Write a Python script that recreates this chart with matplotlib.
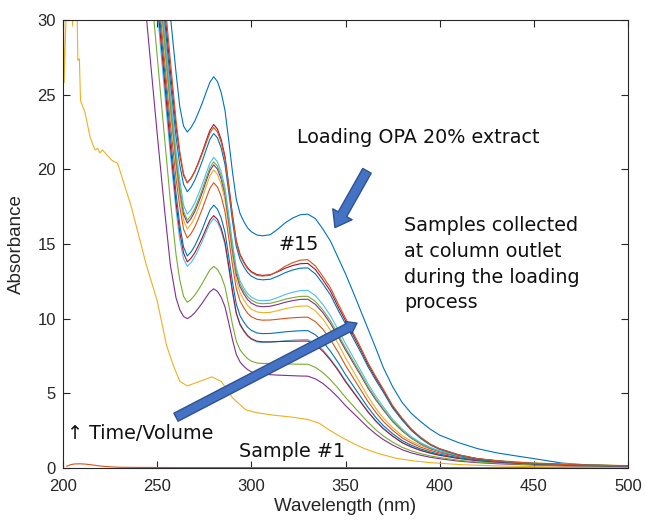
import matplotlib.pyplot as plt
from matplotlib.patches import FancyArrowPatch

# shared wavelength grid (nm) for the loading spectrum and samples 3-15
wl = [240, 245, 250, 254, 257, 260, 262, 264, 266,
      268, 270, 272, 274, 276, 278, 280, 282, 284, 286,
      288, 290, 292, 294, 296, 298, 300, 303, 306, 310,
      314, 318, 322, 326, 330, 334, 338, 342, 346, 350,
      354, 358, 362, 366, 370, 375, 380, 385, 390, 395,
      400, 410, 420, 430, 440, 450, 465, 480, 500]

loading = [45, 45, 42, 34.5, 30.3, 26.5, 24.2, 22.9, 22.5,
           22.8, 23.24, 23.83, 24.46, 25.16, 25.83, 26.2, 25.88, 25.14, 23.96,
           21.94, 19.81, 18.0, 17.04, 16.51, 16.08, 15.82, 15.6, 15.55, 15.62,
           15.99, 16.42, 16.74, 16.96, 17.0, 16.7, 16.0, 15.2, 14.1, 13.0,
           11.8, 10.55, 9.3, 8.05, 6.75, 5.45, 4.4, 3.65, 3.1, 2.6,
           2.2, 1.7, 1.3, 1.02, 0.82, 0.63, 0.33, 0.19, 0.1]

wl_s01 = [202, 204, 206, 209, 212, 216, 220, 225, 230, 240, 260, 300, 350, 400, 450, 500]
s01 = [0.12, 0.22, 0.27, 0.28, 0.26, 0.2, 0.13, 0.08, 0.05, 0.04, 0.03, 0.03, 0.03, 0.03, 0.02, 0.02]

wl_s02 = [200.3, 200.6, 201.8, 204.8, 205.1, 205.4, 207.4, 207.9, 208.7, 209.3,
          210.5, 211.7, 214.3, 216, 217, 218.5, 219.5, 221, 223, 226,
          229, 233, 236, 241, 244, 250, 255, 258.5, 262, 266,
          272.6, 279, 284, 290, 297, 303, 311, 322, 330, 336,
          342, 348, 354, 360, 368, 377, 386, 395, 412, 430,
          450, 475, 500]
s02 = [31, 25.8, 31, 31, 29.6, 31, 31, 27.3, 27.4, 24.6,
       24.2, 23.8, 22.2, 21.6, 21.3, 21.4, 21.1, 21.3, 21.0, 20.6,
       20.4, 18.8, 17.6, 15.2, 13.7, 11.2, 8.2, 6.9, 5.8, 5.5,
       5.8, 6.1, 5.8, 4.7, 3.9, 3.7, 3.55, 3.4, 3.25, 3.0,
       2.5, 2.05, 1.65, 1.3, 0.95, 0.65, 0.48, 0.36, 0.22, 0.14,
       0.09, 0.06, 0.04]

s03 = [36.2, 29.2, 22.4, 17.2, 13.6, 11.4, 10.6, 10.15, 10.0,
       10.16, 10.4, 10.72, 11.06, 11.44, 11.8, 12.0, 11.83, 11.43, 10.8,
       9.72, 8.58, 7.61, 7.1, 6.81, 6.59, 6.44, 6.33, 6.3, 6.25,
       6.22, 6.2, 6.18, 6.16, 6.15, 5.97, 5.66, 5.23, 4.74, 4.18,
       3.69, 3.2, 2.71, 2.28, 1.91, 1.54, 1.23, 1.01, 0.85, 0.72,
       0.62, 0.46, 0.36, 0.29, 0.24, 0.2, 0.15, 0.12, 0.09]
s04 = [41, 34.6, 27.6, 22.0, 17.9, 14.3, 12.6, 11.5, 11.1,
       11.29, 11.58, 11.96, 12.37, 12.83, 13.26, 13.5, 13.31, 12.85, 12.14,
       10.9, 9.6, 8.5, 7.91, 7.59, 7.33, 7.16, 7.03, 7.0, 7.0,
       6.98, 6.97, 6.96, 6.95, 6.95, 6.74, 6.39, 5.91, 5.35, 4.73,
       4.17, 3.61, 3.06, 2.57, 2.15, 1.74, 1.39, 1.15, 0.96, 0.81,
       0.7, 0.52, 0.4, 0.33, 0.27, 0.22, 0.17, 0.14, 0.1]
s05 = [44, 37.7, 30.7, 25.1, 21.0, 17.3, 15.3, 14.0, 13.5,
       13.76, 14.14, 14.65, 15.2, 15.8, 16.38, 16.7, 16.45, 15.87, 14.96,
       13.38, 11.72, 10.31, 9.56, 9.15, 8.82, 8.61, 8.44, 8.4, 8.41,
       8.46, 8.52, 8.56, 8.59, 8.6, 8.34, 7.91, 7.31, 6.62, 5.85,
       5.16, 4.47, 3.78, 3.18, 2.67, 2.15, 1.72, 1.42, 1.19, 1.01,
       0.86, 0.65, 0.5, 0.4, 0.34, 0.28, 0.22, 0.17, 0.13]
s06 = [45, 38.4, 31.4, 25.8, 21.6, 17.8, 15.8, 14.4, 13.8,
       14.05, 14.42, 14.92, 15.44, 16.03, 16.59, 16.9, 16.65, 16.06, 15.13,
       13.52, 11.83, 10.39, 9.63, 9.21, 8.87, 8.66, 8.49, 8.45, 8.45,
       8.47, 8.48, 8.49, 8.5, 8.5, 8.25, 7.82, 7.23, 6.55, 5.78,
       5.1, 4.42, 3.74, 3.15, 2.64, 2.13, 1.7, 1.4, 1.17, 0.99,
       0.85, 0.64, 0.49, 0.4, 0.33, 0.27, 0.21, 0.17, 0.13]
s07 = [45, 39.0, 32.1, 26.5, 22.3, 18.4, 16.3, 14.8, 14.2,
       14.47, 14.88, 15.42, 16.0, 16.65, 17.26, 17.6, 17.34, 16.74, 15.79,
       14.16, 12.44, 10.98, 10.2, 9.77, 9.43, 9.22, 9.04, 9.0, 9.01,
       9.06, 9.12, 9.16, 9.19, 9.2, 8.92, 8.46, 7.82, 7.08, 6.26,
       5.52, 4.78, 4.05, 3.4, 2.85, 2.3, 1.84, 1.52, 1.27, 1.08,
       0.92, 0.69, 0.53, 0.43, 0.36, 0.29, 0.23, 0.18, 0.14]
s08 = [45, 40, 32.8, 27.2, 23.1, 19.4, 17.5, 16.0, 15.4,
       15.7, 16.14, 16.73, 17.36, 18.06, 18.73, 19.1, 18.82, 18.18, 17.17,
       15.42, 13.58, 12.02, 11.19, 10.73, 10.36, 10.13, 9.95, 9.9, 9.91,
       9.96, 10.02, 10.06, 10.09, 10.1, 9.8, 9.29, 8.59, 7.78, 6.87,
       6.06, 5.25, 4.44, 3.74, 3.13, 2.53, 2.02, 1.67, 1.39, 1.18,
       1.01, 0.76, 0.59, 0.47, 0.39, 0.32, 0.25, 0.2, 0.15]
s09 = [45, 41, 33.5, 27.9, 23.8, 20.1, 18.2, 16.6, 16.0,
       16.32, 16.79, 17.43, 18.1, 18.85, 19.56, 19.96, 19.67, 19.0, 17.95,
       16.14, 14.22, 12.6, 11.74, 11.26, 10.88, 10.64, 10.45, 10.4, 10.42,
       10.54, 10.67, 10.77, 10.84, 10.85, 10.52, 9.98, 9.22, 8.35, 7.38,
       6.51, 5.64, 4.77, 4.01, 3.36, 2.71, 2.17, 1.79, 1.5, 1.27,
       1.09, 0.81, 0.63, 0.51, 0.42, 0.35, 0.27, 0.22, 0.16]
s10 = [45, 41, 34.2, 28.6, 24.5, 20.6, 18.6, 17.0, 16.4,
       16.71, 17.18, 17.8, 18.47, 19.21, 19.91, 20.3, 20.02, 19.35, 18.31,
       16.5, 14.6, 12.99, 12.13, 11.66, 11.28, 11.04, 10.85, 10.8, 10.83,
       10.95, 11.1, 11.21, 11.29, 11.3, 10.96, 10.4, 9.68, 8.81, 7.91,
       7.06, 6.22, 5.34, 4.58, 3.9, 3.11, 2.49, 1.99, 1.6, 1.31,
       1.1, 0.79, 0.59, 0.46, 0.37, 0.31, 0.24, 0.19, 0.14]
s11 = [45, 41, 34.2, 28.6, 24.5, 20.8, 18.8, 17.2, 16.6,
       16.91, 17.38, 18.0, 18.67, 19.41, 20.11, 20.5, 20.22, 19.55, 18.51,
       16.7, 14.8, 13.19, 12.33, 11.86, 11.48, 11.24, 11.05, 11.0, 11.03,
       11.15, 11.3, 11.41, 11.49, 11.5, 11.16, 10.58, 9.86, 8.97, 8.05,
       7.19, 6.33, 5.44, 4.66, 3.97, 3.16, 2.53, 2.02, 1.63, 1.33,
       1.12, 0.81, 0.6, 0.47, 0.38, 0.31, 0.24, 0.2, 0.14]
s12 = [45, 42, 34.9, 29.3, 25.1, 21.3, 19.3, 17.6, 17.0,
       17.3, 17.76, 18.37, 19.01, 19.74, 20.42, 20.8, 20.51, 19.84, 18.78,
       16.96, 15.04, 13.41, 12.54, 12.06, 11.68, 11.44, 11.25, 11.2, 11.24,
       11.41, 11.62, 11.77, 11.88, 11.9, 11.54, 10.95, 10.2, 9.28, 8.33,
       7.44, 6.55, 5.63, 4.82, 4.11, 3.27, 2.62, 2.09, 1.69, 1.38,
       1.15, 0.83, 0.62, 0.49, 0.39, 0.32, 0.25, 0.2, 0.14]
s13 = [45, 43, 36.3, 30.7, 26.6, 22.9, 21.0, 19.6, 19.1,
       19.41, 19.88, 20.5, 21.17, 21.91, 22.61, 23.0, 22.7, 21.99, 20.88,
       18.96, 16.94, 15.22, 14.31, 13.81, 13.41, 13.15, 12.95, 12.9, 12.94,
       13.14, 13.38, 13.56, 13.68, 13.7, 13.29, 12.6, 11.85, 10.82, 9.86,
       8.91, 7.95, 6.92, 6.03, 5.21, 4.11, 3.29, 2.56, 2.01, 1.58,
       1.27, 0.88, 0.62, 0.48, 0.37, 0.3, 0.23, 0.18, 0.14]
s14 = [45, 43, 35.6, 30.0, 25.9, 22.2, 20.3, 19.0, 18.5,
       18.81, 19.28, 19.9, 20.57, 21.31, 22.01, 22.4, 22.11, 21.42, 20.34,
       18.48, 16.52, 14.85, 13.97, 13.48, 13.09, 12.85, 12.65, 12.6, 12.64,
       12.84, 13.08, 13.26, 13.38, 13.4, 13.0, 12.33, 11.59, 10.59, 9.65,
       8.71, 7.77, 6.77, 5.9, 5.09, 4.02, 3.22, 2.51, 1.97, 1.54,
       1.25, 0.86, 0.6, 0.47, 0.36, 0.29, 0.23, 0.18, 0.13]
s15 = [45, 44, 37.0, 31.4, 27.3, 23.3, 21.2, 19.7, 19.1,
       19.4, 19.84, 20.43, 21.06, 21.76, 22.43, 22.8, 22.5, 21.8, 20.71,
       18.82, 16.83, 15.14, 14.24, 13.75, 13.35, 13.1, 12.9, 12.85, 12.91,
       13.18, 13.51, 13.75, 13.92, 13.95, 13.53, 12.83, 12.07, 11.02, 10.04,
       9.07, 8.09, 7.04, 6.14, 5.3, 4.19, 3.35, 2.61, 2.05, 1.6,
       1.3, 0.89, 0.63, 0.49, 0.38, 0.31, 0.24, 0.19, 0.14]

# MATLAB default color order
colors = ['#0072BD', '#D95319', '#EDB120', '#7E2F8E', '#77AC30', '#4DBEEE', '#A2142F']

fig = plt.figure(figsize=(6.45, 5.24), dpi=100)
ax = fig.add_axes([63 / 645, 56 / 524, 565 / 645, 448 / 524])

series = [(wl, loading), (wl_s01, s01), (wl_s02, s02)]
for s in [s03, s04, s05, s06, s07, s08, s09, s10, s11, s12, s13, s14, s15]:
    series.append((wl, s))

for i, (x, y) in enumerate(series):
    ax.plot(x, y, color=colors[i % 7], lw=0.8)

ax.set_xlim(200, 500)
ax.set_ylim(0, 30)
ax.set_xticks(range(200, 501, 50))
ax.set_yticks(range(0, 31, 5))
ax.tick_params(direction='in', top=True, right=True, length=5, width=0.8,
               labelsize=12, colors='#262626')
ax.tick_params(axis='x', pad=8)
ax.tick_params(axis='y', pad=5)
for lab in ax.get_xticklabels() + ax.get_yticklabels():
    lab.set_family('Liberation Sans')
for sp in ax.spines.values():
    sp.set_color('#262626')
    sp.set_linewidth(0.8)
ax.set_xlabel('Wavelength (nm)', fontsize=13.5, family='Liberation Sans', color='#262626', labelpad=3)
ax.set_ylabel('Absorbance', fontsize=13.5, family='Liberation Sans', color='#262626', labelpad=9)

# annotations
tkw = dict(fontsize=13.8, family='DejaVu Sans', color='#111111', zorder=5)
ax.text(324.5, 22.1, 'Loading OPA 20% extract', va='center', ha='left', **tkw)
ax.text(381, 13.65, 'Samples collected\nat column outlet\nduring the loading\nprocess',
        va='center', ha='left', linespacing=1.45, **tkw)
ax.text(314.5, 15.0, '#15', va='center', ha='left', **tkw)
ax.text(202, 2.3, '\u2191 Time/Volume', va='center', ha='left', **tkw)
ax.text(293.5, 1.1, 'Sample #1', va='center', ha='left', **tkw)

arrow1 = FancyArrowPatch((361.4, 19.9), (344.4, 16.1),
                         arrowstyle='simple,head_length=11,head_width=16,tail_width=7',
                         mutation_scale=1, shrinkA=0, shrinkB=0,
                         fc='#4472C4', ec='#2F528F', lw=1, zorder=4)
arrow2 = FancyArrowPatch((260.0, 3.4), (356.1, 9.7),
                         arrowstyle='simple,head_length=7,head_width=10,tail_width=6.5',
                         mutation_scale=1, shrinkA=0, shrinkB=0,
                         fc='#4472C4', ec='#2F528F', lw=1, zorder=4)
ax.add_patch(arrow1)
ax.add_patch(arrow2)

fig.savefig('out.png', dpi=100)
